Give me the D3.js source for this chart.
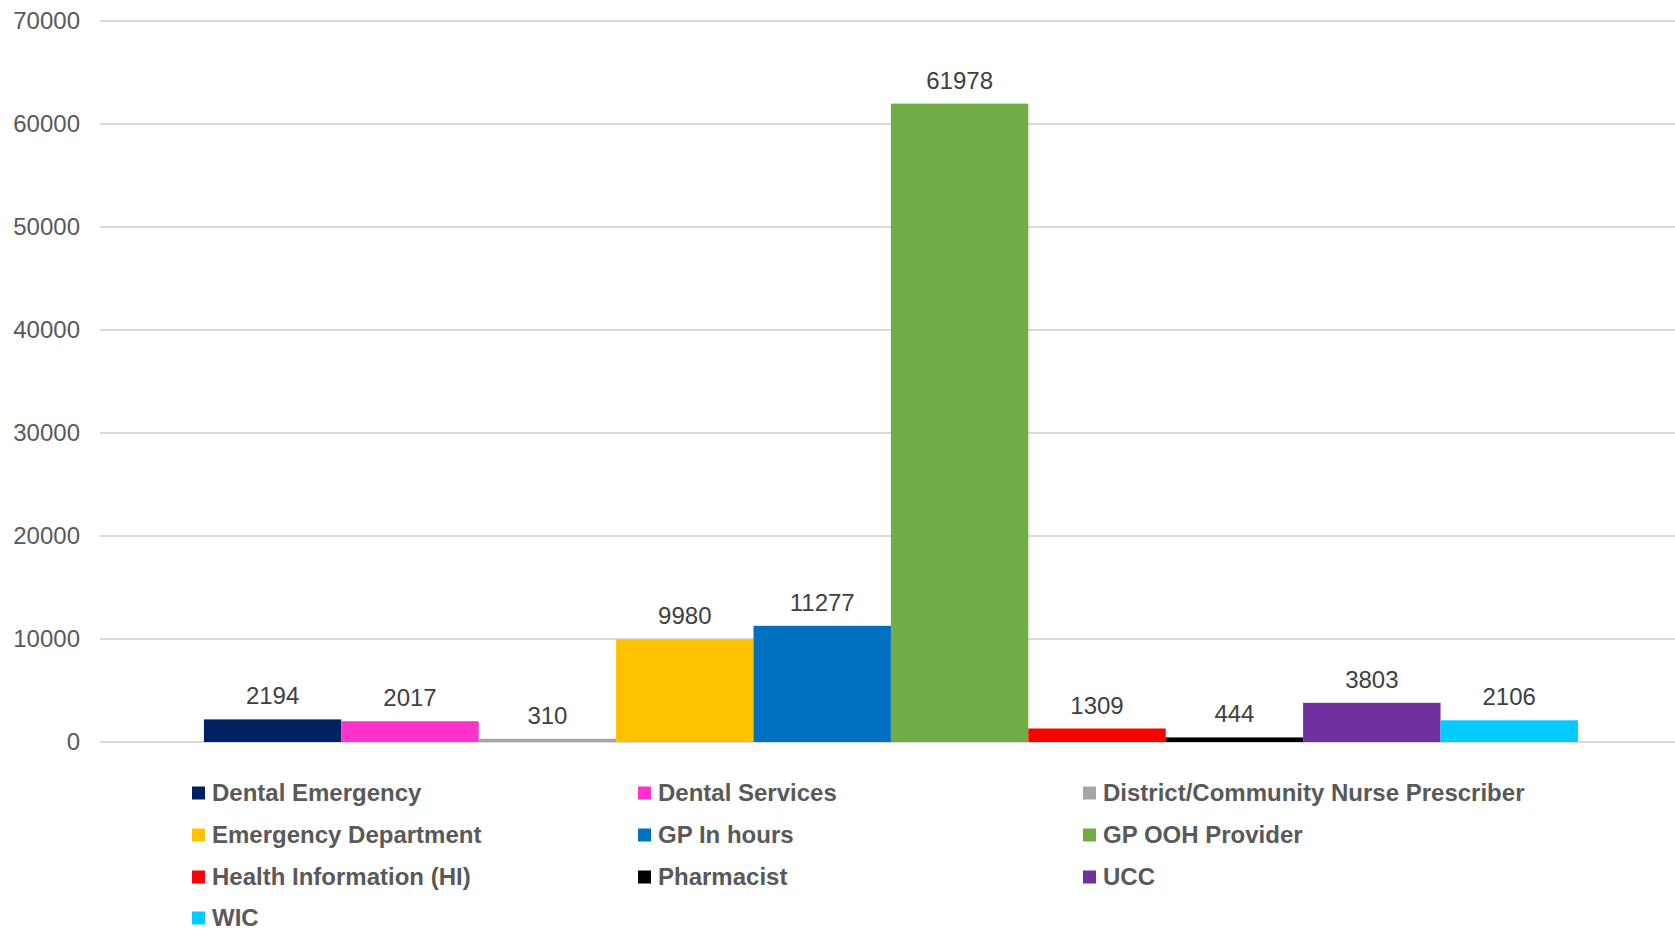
<!DOCTYPE html>
<html>
<head>
<meta charset="utf-8">
<script src="https://cdn.jsdelivr.net/npm/d3@7"></script>
<style>
  html, body { margin: 0; padding: 0; background: #fff; }
  svg { display: block; font-family: "Liberation Sans", Arial, sans-serif; }
</style>
</head>
<body>
<svg id="chart" width="1675" height="930"></svg>
<script>
const categories = ["Dental Emergency", "Dental Services", "District/Community Nurse Prescriber",
  "Emergency Department", "GP In hours", "GP OOH Provider",
  "Health Information (HI)", "Pharmacist", "UCC", "WIC"];
const values = [2194, 2017, 310, 9980, 11277, 61978, 1309, 444, 3803, 2106];
const colors = ["#002060", "#FF33CC", "#A5A5A5", "#FFC000", "#0070C0", "#70AD47",
  "#FF0000", "#000000", "#7030A0", "#00CCFF"];
const yTicks = [0, 10000, 20000, 30000, 40000, 50000, 60000, 70000];

const svg = d3.select("#chart");
const plot = { left: 100, right: 1675, top: 21, bottom: 742 };

const y = d3.scaleLinear().domain([0, 70000]).range([plot.bottom, plot.top]);
const x = d3.scaleBand().domain(categories).range([plot.left, plot.right])
  .paddingInner(0).paddingOuter(0.7314).align(0.517);

// gridlines
svg.append("g").selectAll("line").data(yTicks).join("line")
  .attr("x1", plot.left).attr("x2", plot.right)
  .attr("y1", d => y(d)).attr("y2", d => y(d))
  .attr("stroke", "#d9d9d9").attr("stroke-width", 2);

// y axis labels
const yAxis = d3.axisLeft(y).tickValues(yTicks).tickSize(0).tickPadding(0).tickFormat(d3.format("d"));
const ya = svg.append("g").attr("transform", "translate(80,0)").call(yAxis);
ya.select(".domain").remove();
ya.selectAll("text").attr("font-size", 24).attr("fill", "#595959")
  .attr("font-family", "'Liberation Sans', Arial, sans-serif");

// bars
svg.append("g").selectAll("rect").data(categories).join("rect")
  .attr("x", d => x(d)).attr("width", x.bandwidth())
  .attr("y", (d, i) => y(values[i]))
  .attr("height", (d, i) => y(0) - y(values[i]))
  .attr("fill", (d, i) => colors[i]);

// value labels
svg.append("g").selectAll("text").data(categories).join("text")
  .attr("x", d => x(d) + x.bandwidth() / 2)
  .attr("y", (d, i) => y(values[i]) - 15)
  .attr("text-anchor", "middle")
  .attr("font-size", 24).attr("fill", "#404040")
  .text((d, i) => values[i]);

// legend
const colX = [192, 638, 1083];
const rowY = [793, 835, 877, 918];
const lg = svg.append("g").selectAll("g").data(categories).join("g")
  .attr("transform", (d, i) => `translate(${colX[i % 3]},${rowY[Math.floor(i / 3)]})`);
lg.append("rect").attr("x", 0).attr("y", -6.5).attr("width", 13).attr("height", 13)
  .attr("fill", (d, i) => colors[i]);
lg.append("text").attr("x", 20).attr("y", 0).attr("dy", "0.35em")
  .attr("font-size", 24).attr("font-weight", "bold").attr("fill", "#595959")
  .text(d => d);
</script>
</body>
</html>
